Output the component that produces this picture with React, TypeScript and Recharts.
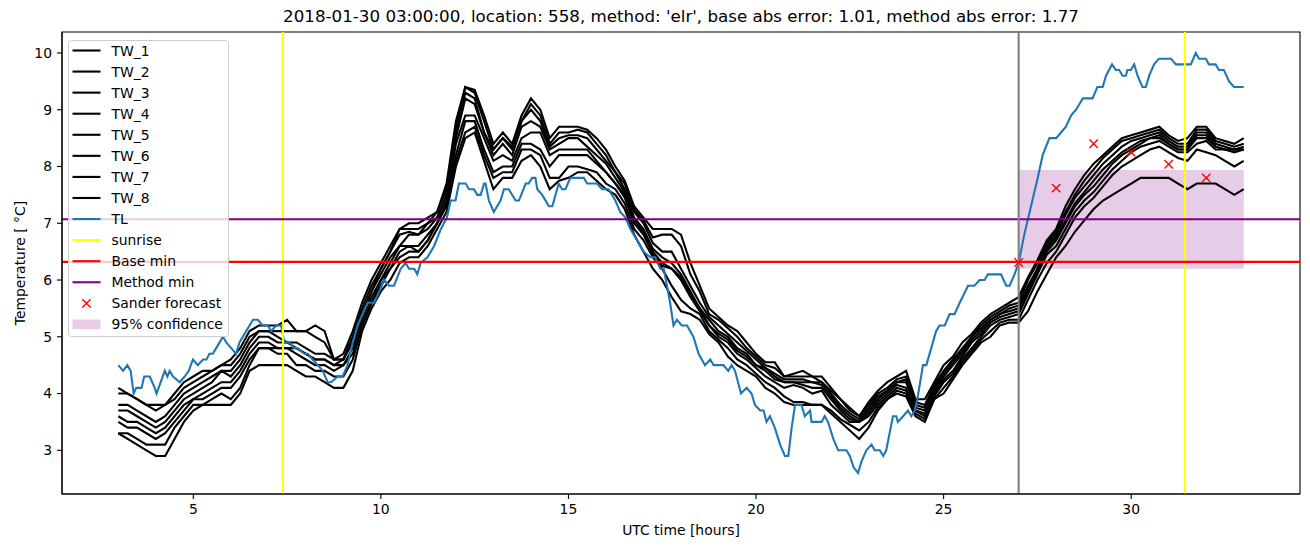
import {
  ComposedChart,
  Line,
  Scatter,
  XAxis,
  YAxis,
  ReferenceLine,
  ReferenceArea,
  Legend,
} from "recharts";

// TL: read at its turning points (UTC hours, degC)
const TL_HOURS = [
  3.0, 3.13, 3.24, 3.33, 3.41, 3.48, 3.62, 3.69, 3.84, 3.97,
  4.02, 4.24, 4.31, 4.37, 4.46, 4.64, 4.77, 4.88, 4.99, 5.12,
  5.26, 5.35, 5.43, 5.52, 5.61, 5.79, 5.88, 6.01, 6.14, 6.23,
  6.41, 6.5, 6.59, 6.72, 6.85, 6.99, 7.07, 7.21, 7.34, 7.43,
  7.56, 7.69, 7.78, 7.96, 8.05, 8.18, 8.32, 8.45, 8.58, 8.67,
  8.85, 8.98, 9.11, 9.25, 9.38, 9.51, 9.65, 9.82, 9.96, 10.09,
  10.22, 10.35, 10.53, 10.66, 10.75, 10.89, 10.97, 11.06, 11.24, 11.42,
  11.6, 11.76, 11.86, 11.99, 12.08, 12.26, 12.35, 12.48, 12.57, 12.66,
  12.75, 12.79, 12.88, 13.01, 13.19, 13.28, 13.41, 13.59, 13.68, 13.86,
  13.94, 14.03, 14.12, 14.17, 14.3, 14.48, 14.57, 14.74, 14.83, 14.92,
  15.05, 15.41, 15.5, 15.76, 15.9, 16.07, 16.25, 16.38, 16.52, 16.65,
  16.83, 17.0, 17.18, 17.31, 17.45, 17.54, 17.71, 17.8, 17.89, 18.02,
  18.16, 18.33, 18.47, 18.64, 18.78, 18.87, 19.13, 19.26, 19.35, 19.44,
  19.6, 19.75, 19.88, 19.97, 20.11, 20.2, 20.28, 20.37, 20.5, 20.64,
  20.77, 20.86, 20.95, 21.04, 21.21, 21.3, 21.44, 21.48, 21.75, 21.83,
  21.92, 22.06, 22.19, 22.41, 22.5, 22.6, 22.72, 22.81, 22.94, 23.08,
  23.16, 23.3, 23.39, 23.47, 23.65, 23.74, 23.78, 23.92, 24.05, 24.14,
  24.23, 24.3, 24.45, 24.54, 24.67, 24.8, 24.89, 25.03, 25.16, 25.29,
  25.43, 25.65, 25.82, 25.96, 26.09, 26.18, 26.53, 26.67, 26.76, 26.89,
  27.0, 27.15, 27.33, 27.51, 27.64, 27.82, 28.0, 28.13, 28.26, 28.4,
  28.53, 28.71, 28.97, 29.1, 29.24, 29.33, 29.49, 29.59, 29.68, 29.77,
  29.86, 29.9, 29.99, 30.08, 30.17, 30.3, 30.39, 30.48, 30.61, 30.74,
  31.06, 31.19, 31.59, 31.72, 31.81, 31.99, 32.07, 32.25, 32.34, 32.47,
  32.61, 32.74, 33.0,
];

const TL_VALUES = [
  4.5, 4.4, 4.5, 4.4, 4.0, 4.1, 4.1, 4.3, 4.3, 4.1,
  4.0, 4.4, 4.3, 4.4, 4.3, 4.2, 4.3, 4.4, 4.6, 4.5,
  4.6, 4.6, 4.7, 4.7, 4.8, 5.0, 4.9, 4.8, 4.7, 4.9,
  5.1, 5.2, 5.3, 5.3, 5.2, 5.2, 5.1, 5.2, 5.2, 4.9,
  4.9, 4.8, 4.8, 4.7, 4.7, 4.6, 4.5, 4.4, 4.2, 4.2,
  4.3, 4.3, 4.5, 4.9, 5.2, 5.4, 5.6, 5.6, 5.8, 6.0,
  5.9, 5.9, 6.2, 6.3, 6.2, 6.2, 6.1, 6.3, 6.4, 6.6,
  6.9, 7.1, 7.4, 7.4, 7.7, 7.7, 7.6, 7.6, 7.5, 7.5,
  7.7, 7.7, 7.4, 7.2, 7.4, 7.6, 7.6, 7.4, 7.4, 7.7,
  7.7, 7.8, 7.8, 7.6, 7.5, 7.3, 7.3, 7.7, 7.6, 7.6,
  7.8, 7.8, 7.7, 7.7, 7.6, 7.6, 7.4, 7.2, 7.1, 6.9,
  6.7, 6.5, 6.4, 6.4, 6.2, 6.2, 5.6, 5.2, 5.3, 5.2,
  5.2, 5.0, 4.7, 4.5, 4.6, 4.5, 4.5, 4.4, 4.5, 4.4,
  4.0, 4.1, 4.0, 3.8, 3.7, 3.7, 3.5, 3.6, 3.4, 3.1,
  2.9, 2.9, 3.4, 3.8, 3.8, 3.6, 3.7, 3.5, 3.5, 3.6,
  3.5, 3.2, 3.0, 3.0, 2.9, 2.7, 2.6, 2.8, 3.0, 3.1,
  3.0, 3.0, 2.9, 3.0, 3.6, 3.6, 3.5, 3.6, 3.7, 3.6,
  3.7, 3.9, 4.5, 4.5, 4.8, 5.1, 5.2, 5.2, 5.4, 5.4,
  5.6, 5.9, 5.9, 6.0, 6.0, 6.1, 6.1, 5.9, 5.9, 6.1,
  6.3, 6.8, 7.3, 7.8, 8.2, 8.5, 8.5, 8.6, 8.7, 8.9,
  9.0, 9.2, 9.2, 9.4, 9.4, 9.6, 9.8, 9.7, 9.7, 9.6,
  9.6, 9.7, 9.7, 9.8, 9.6, 9.4, 9.4, 9.6, 9.8, 9.9,
  9.9, 9.8, 9.8, 10.0, 9.9, 9.9, 9.8, 9.8, 9.7, 9.7,
  9.5, 9.4, 9.4,
];

// TW_1..TW_8: every 15 minutes from 03:00 to 33:00
const TW_START = 3;
const TW_STEP = 0.25;

const TW_1 = [
  4.1, 4.0, 3.9, 3.8, 3.8, 3.8, 4.0, 4.2, 4.3, 4.4,
  4.4, 4.5, 4.6, 4.8, 5.1, 5.2, 5.2, 5.2, 5.3, 5.1,
  5.1, 5.2, 5.1, 4.6, 4.7, 5.1, 5.6, 6.0, 6.3, 6.6,
  6.9, 7.0, 7.0, 7.1, 7.2, 7.7, 8.8, 9.4, 9.35, 8.9,
  8.4, 8.6, 8.4, 8.9, 9.2, 9.0, 8.5, 8.7, 8.7, 8.7,
  8.65, 8.5, 8.3, 8.0, 7.75, 7.3, 7.1, 6.9, 6.9, 6.9,
  6.8, 6.3, 5.9, 5.5, 5.35, 5.2, 5.1, 4.9, 4.7, 4.55,
  4.55, 4.3, 4.35, 4.4, 4.3, 4.3, 4.1, 3.9, 3.75, 3.6,
  3.85, 4.05, 4.2, 4.3, 4.4, 3.9, 3.9, 4.2, 4.5, 4.65,
  4.9, 5.05, 5.25, 5.4, 5.5, 5.6, 5.7, 6.05, 6.35, 6.7,
  6.9, 7.3, 7.6, 7.85, 8.05, 8.2, 8.35, 8.5, 8.55, 8.6,
  8.65, 8.7, 8.55, 8.45, 8.5, 8.7, 8.7, 8.5, 8.45, 8.4,
  8.5,
];

const TW_2 = [
  4.0, 4.0, 3.9, 3.8, 3.7, 3.8, 3.9, 4.1, 4.2, 4.3,
  4.4, 4.5, 4.5, 4.7, 5.0, 5.1, 5.1, 5.1, 5.1, 5.1,
  5.1, 5.0, 4.9, 4.6, 4.6, 5.0, 5.5, 5.9, 6.2, 6.5,
  6.9, 6.9, 6.9, 7.0, 7.2, 7.6, 8.7, 9.4, 9.3, 8.8,
  8.3, 8.5, 8.35, 8.8, 9.1, 8.9, 8.4, 8.6, 8.6, 8.65,
  8.6, 8.4, 8.2, 7.9, 7.7, 7.25, 7.05, 6.75, 6.8, 6.8,
  6.6, 6.1, 5.8, 5.4, 5.3, 5.15, 5.0, 4.8, 4.65, 4.5,
  4.45, 4.3, 4.3, 4.3, 4.3, 4.2, 4.05, 3.9, 3.7, 3.6,
  3.8, 4.0, 4.1, 4.25, 4.3, 3.85, 3.8, 4.15, 4.4, 4.6,
  4.8, 5.0, 5.2, 5.35, 5.45, 5.55, 5.6, 6.0, 6.3, 6.65,
  6.85, 7.2, 7.5, 7.75, 7.95, 8.15, 8.3, 8.45, 8.5, 8.55,
  8.6, 8.65, 8.5, 8.4, 8.4, 8.65, 8.65, 8.45, 8.4, 8.35,
  8.4,
];

const TW_3 = [
  3.8, 3.8, 3.7, 3.6, 3.5, 3.6, 3.8, 4.0, 4.1, 4.2,
  4.3, 4.4, 4.4, 4.6, 4.9, 5.1, 5.1, 5.0, 4.9, 4.9,
  4.8, 4.7, 4.7, 4.6, 4.6, 5.0, 5.4, 5.8, 6.2, 6.5,
  6.8, 6.85, 6.8, 7.0, 7.1, 7.5, 8.6, 9.3, 9.2, 8.6,
  8.3, 8.5, 8.3, 8.8, 9.0, 8.8, 8.35, 8.5, 8.55, 8.55,
  8.5, 8.3, 8.1, 7.9, 7.6, 7.2, 7.0, 6.65, 6.5, 6.5,
  6.2, 5.9, 5.6, 5.35, 5.2, 5.05, 4.9, 4.75, 4.6, 4.45,
  4.35, 4.25, 4.25, 4.25, 4.2, 4.2, 4.0, 3.8, 3.65, 3.55,
  3.75, 3.95, 4.05, 4.2, 4.25, 3.8, 3.75, 4.1, 4.35, 4.55,
  4.75, 5.0, 5.15, 5.3, 5.4, 5.5, 5.55, 5.9, 6.2, 6.6,
  6.8, 7.15, 7.45, 7.65, 7.85, 8.05, 8.2, 8.35, 8.45, 8.5,
  8.55, 8.6, 8.45, 8.35, 8.35, 8.6, 8.6, 8.4, 8.35, 8.3,
  8.35,
];

const TW_4 = [
  3.7, 3.7, 3.6, 3.5, 3.4, 3.5, 3.7, 3.9, 4.0, 4.1,
  4.2, 4.4, 4.3, 4.5, 4.8, 5.0, 5.0, 4.9, 4.9, 4.8,
  4.7, 4.6, 4.6, 4.5, 4.6, 4.9, 5.4, 5.8, 6.1, 6.4,
  6.6, 6.8, 6.8, 6.9, 7.1, 7.5, 8.5, 9.2, 9.1, 8.6,
  8.2, 8.4, 8.2, 8.7, 8.8, 8.7, 8.3, 8.4, 8.5, 8.5,
  8.35, 8.2, 8.05, 7.8, 7.55, 7.1, 6.9, 6.55, 6.4, 6.3,
  6.1, 5.8, 5.5, 5.3, 5.1, 5.0, 4.8, 4.7, 4.5, 4.45,
  4.3, 4.2, 4.2, 4.2, 4.2, 4.15, 3.95, 3.75, 3.6, 3.5,
  3.7, 3.9, 4.05, 4.2, 4.2, 3.75, 3.7, 4.05, 4.3, 4.5,
  4.7, 4.95, 5.1, 5.3, 5.4, 5.45, 5.5, 5.85, 6.2, 6.55,
  6.75, 7.05, 7.35, 7.55, 7.75, 7.95, 8.1, 8.25, 8.35, 8.45,
  8.5, 8.55, 8.4, 8.3, 8.3, 8.55, 8.55, 8.35, 8.3, 8.3,
  8.3,
];

const TW_5 = [
  3.6, 3.5, 3.5, 3.4, 3.3, 3.4, 3.6, 3.8, 3.9, 4.0,
  4.1, 4.2, 4.2, 4.4, 4.7, 4.9, 4.9, 4.8, 4.8, 4.8,
  4.7, 4.6, 4.6, 4.5, 4.5, 4.8, 5.3, 5.7, 6.0, 6.3,
  6.6, 6.6, 6.6, 6.8, 7.0, 7.4, 8.4, 8.9, 8.9, 8.5,
  8.1, 8.2, 8.1, 8.5, 8.6, 8.6, 8.2, 8.3, 8.3, 8.3,
  8.3, 8.1, 7.9, 7.7, 7.5, 7.05, 6.85, 6.5, 6.3, 6.2,
  6.05, 5.75, 5.5, 5.2, 5.05, 4.95, 4.75, 4.65, 4.5, 4.4,
  4.25, 4.2, 4.2, 4.15, 4.1, 4.1, 3.9, 3.7, 3.55, 3.5,
  3.65, 3.85, 4.0, 4.15, 4.1, 3.7, 3.65, 4.0, 4.25, 4.4,
  4.65, 4.9, 5.05, 5.25, 5.35, 5.4, 5.45, 5.8, 6.15, 6.5,
  6.7, 7.0, 7.3, 7.5, 7.65, 7.85, 8.05, 8.2, 8.3, 8.4,
  8.5, 8.5, 8.4, 8.3, 8.3, 8.5, 8.5, 8.35, 8.3, 8.3,
  8.3,
];

const TW_6 = [
  3.5, 3.4, 3.4, 3.3, 3.2, 3.3, 3.5, 3.7, 3.9, 3.9,
  4.0, 4.1, 4.1, 4.3, 4.6, 4.8, 4.8, 4.8, 4.8, 4.7,
  4.6, 4.5, 4.5, 4.4, 4.5, 4.7, 5.2, 5.6, 6.0, 6.2,
  6.5, 6.6, 6.5, 6.7, 7.0, 7.35, 8.2, 8.8, 8.8, 8.3,
  7.9, 8.0, 8.0, 8.4, 8.4, 8.3, 8.0, 8.2, 8.2, 8.2,
  8.2, 8.05, 7.9, 7.7, 7.45, 7.0, 6.8, 6.45, 6.25, 6.2,
  6.0, 5.7, 5.45, 5.2, 5.0, 4.9, 4.7, 4.6, 4.45, 4.3,
  4.2, 4.1, 4.15, 4.1, 4.0, 4.05, 3.8, 3.65, 3.5, 3.5,
  3.6, 3.8, 3.95, 4.1, 4.05, 3.7, 3.6, 3.95, 4.2, 4.35,
  4.6, 4.8, 5.0, 5.2, 5.3, 5.35, 5.4, 5.75, 6.1, 6.45,
  6.6, 6.9, 7.2, 7.4, 7.55, 7.75, 7.95, 8.1, 8.25, 8.35,
  8.4, 8.45, 8.35, 8.25, 8.25, 8.4, 8.45, 8.3, 8.3, 8.25,
  8.3,
];

const TW_7 = [
  3.3, 3.3, 3.2, 3.1, 3.1, 3.1, 3.4, 3.6, 3.8, 3.8,
  3.9, 4.0, 3.9, 4.1, 4.5, 4.8, 4.8, 4.7, 4.7, 4.5,
  4.5, 4.4, 4.4, 4.3, 4.3, 4.6, 5.2, 5.6, 5.9, 6.2,
  6.4, 6.5, 6.5, 6.7, 7.0, 7.3, 8.1, 8.6, 8.7, 8.2,
  7.8, 7.9, 7.9, 8.3, 8.3, 8.2, 7.8, 7.8, 8.0, 8.0,
  7.95, 7.9, 7.7, 7.6, 7.35, 6.9, 6.7, 6.4, 6.2, 5.9,
  5.65, 5.5, 5.4, 5.1, 4.95, 4.8, 4.6, 4.5, 4.35, 4.2,
  4.1, 3.95, 3.85, 3.85, 3.8, 3.8, 3.7, 3.55, 3.45, 3.35,
  3.5, 3.75, 3.9, 4.05, 4.0, 3.65, 3.55, 3.9, 4.1, 4.3,
  4.55, 4.75, 4.95, 5.1, 5.25, 5.3, 5.3, 5.65, 6.0, 6.3,
  6.5, 6.8, 7.1, 7.3, 7.45, 7.65, 7.85, 8.0, 8.1, 8.2,
  8.3, 8.35, 8.25, 8.15, 8.1, 8.3, 8.25, 8.2, 8.1, 8.0,
  8.1,
];

const TW_8 = [
  3.3, 3.2, 3.1, 3.0, 2.9, 2.9, 3.2, 3.5, 3.7, 3.8,
  3.8, 3.8, 3.8, 4.0, 4.4, 4.5, 4.5, 4.5, 4.5, 4.4,
  4.3, 4.3, 4.2, 4.1, 4.1, 4.4, 5.1, 5.5, 5.8, 6.0,
  6.3, 6.4, 6.4, 6.6, 6.9, 7.2, 8.0, 8.5, 8.6, 8.1,
  7.6, 7.8, 7.8, 8.1, 8.2, 8.0, 7.6, 7.75, 7.8, 7.9,
  7.9, 7.75, 7.6, 7.5, 7.25, 6.8, 6.5, 6.2, 6.0, 5.7,
  5.45, 5.4, 5.3, 5.05, 4.9, 4.65, 4.5, 4.4, 4.3, 4.1,
  4.0, 3.85, 3.8, 3.8, 3.8, 3.8, 3.65, 3.5, 3.35, 3.2,
  3.4, 3.7, 3.9, 4.0, 3.95, 3.6, 3.5, 3.9, 4.0, 4.25,
  4.5, 4.7, 4.9, 5.0, 5.2, 5.25, 5.25, 5.45, 5.8, 6.1,
  6.4, 6.6, 6.85, 7.05, 7.25, 7.4, 7.5, 7.6, 7.7, 7.8,
  7.8, 7.8, 7.8, 7.7, 7.6, 7.7, 7.7, 7.7, 7.6, 7.5,
  7.6,
];

const TW_SERIES = [TW_1, TW_2, TW_3, TW_4, TW_5, TW_6, TW_7, TW_8];
const TW_NAMES = ["TW_1", "TW_2", "TW_3", "TW_4", "TW_5", "TW_6", "TW_7", "TW_8"];

const SANDER_HOURS = [27, 28, 29, 30, 31, 32];
const SANDER_VALUES = [6.31, 7.62, 8.4, 8.25, 8.04, 7.8];

const SUNRISE_HOURS = [7.39, 31.43];
const FORECAST_START = 27;
const BASE_MIN = 6.32;
const METHOD_MIN = 7.07;
const CONF_RANGE = [27, 33];
const CONF_LOW = 6.2;
const CONF_HIGH = 7.94;

const X_TICKS = [5, 10, 15, 20, 25, 30];
const Y_TICKS = [3, 4, 5, 6, 7, 8, 9, 10];

const TITLE =
  "2018-01-30 03:00:00, location: 558, method: 'elr', base abs error: 1.01, method abs error: 1.77";

const FONT = "DejaVu Sans";
const BLUE = "#1f77b4";

const twRows = TW_1.map((_, i) => {
  const row: Record<string, number> = { h: TW_START + i * TW_STEP };
  TW_SERIES.forEach((s, k) => {
    row[`tw${k + 1}`] = s[i];
  });
  return row;
});

const tlRows = TL_HOURS.map((h, i) => ({ h, tl: TL_VALUES[i] }));
const sander = SANDER_HOURS.map((h, i) => ({ h, v: SANDER_VALUES[i] }));

function XMark({ cx, cy, size = 4.2 }: { cx?: number; cy?: number; size?: number }) {
  if (cx == null || cy == null) return null;
  return (
    <path
      d={`M${cx - size},${cy - size}L${cx + size},${cy + size}M${cx - size},${cy + size}L${cx + size},${cy - size}`}
      stroke="#ff0000"
      strokeWidth={1.4}
      fill="none"
    />
  );
}

type LegendItem = { label: string; kind: "line" | "x" | "rect"; color: string };

const LEGEND_ITEMS: LegendItem[] = [
  ...TW_NAMES.map((n) => ({ label: n, kind: "line" as const, color: "#000000" })),
  { label: "TL", kind: "line", color: BLUE },
  { label: "sunrise", kind: "line", color: "#ffff00" },
  { label: "Base min", kind: "line", color: "#ff0000" },
  { label: "Method min", kind: "line", color: "#800080" },
  { label: "Sander forecast", kind: "x", color: "#ff0000" },
  { label: "95% confidence", kind: "rect", color: "#800080" },
];

function LegendBox() {
  const rowH = 21.07;
  return (
    <svg width={162} height={298} style={{ display: "block" }}>
      <rect
        x={0.5}
        y={0.5}
        width={160}
        height={296}
        rx={3}
        fill="#ffffff"
        fillOpacity={0.8}
        stroke="#cccccc"
        strokeWidth={1}
      />
      {LEGEND_ITEMS.map((it, i) => {
        const y = 10.5 + i * rowH;
        return (
          <g key={it.label}>
            {it.kind === "line" && (
              <line x1={4.5} x2={32.5} y1={y} y2={y} stroke={it.color} strokeWidth={2.1} />
            )}
            {it.kind === "x" && <XMark cx={18.5} cy={y} />}
            {it.kind === "rect" && (
              <rect x={4.5} y={y - 4.9} width={28} height={9.7} fill={it.color} fillOpacity={0.2} />
            )}
            <text
              x={43.5}
              y={y}
              dominantBaseline="central"
              fontFamily={FONT}
              fontSize={13.9}
              fill="#000"
            >
              {it.label}
            </text>
          </g>
        );
      })}
    </svg>
  );
}

export default function App() {
  const tickStyle = { fontSize: 13.9, fill: "#000", fontFamily: FONT };
  return (
    <div style={{ position: "absolute", left: 0, top: 0, width: 1310, height: 547, background: "#fff" }}>
      <svg
        width={1310}
        height={30}
        style={{ position: "absolute", left: 0, top: 0, pointerEvents: "none" }}
      >
        <text x={681} y={22} textAnchor="middle" fontFamily={FONT} fontSize={16.7} fill="#000">
          {TITLE}
        </text>
      </svg>
      <ComposedChart
        width={1310}
        height={547}
        data={twRows}
        margin={{ top: 32, right: 10, bottom: 0, left: 0 }}
      >
        <XAxis
          dataKey="h"
          type="number"
          domain={[1.5, 34.5]}
          ticks={X_TICKS}
          allowDataOverflow
          height={53}
          tick={tickStyle}
          tickSize={5}
          tickMargin={5}
          stroke="#000"
          tickLine={{ stroke: "#000", strokeWidth: 1.1 }}
          axisLine={{ stroke: "#000", strokeWidth: 1.1 }}
          label={{
            content: () => (
              <text x={681} y={535} textAnchor="middle" fontFamily={FONT} fontSize={13.9} fill="#000">
                UTC time [hours]
              </text>
            ),
          }}
        />
        <YAxis
          type="number"
          domain={[2.23, 10.37]}
          ticks={Y_TICKS}
          allowDataOverflow
          width={62}
          tick={tickStyle}
          tickSize={5}
          tickMargin={5}
          stroke="#000"
          tickLine={{ stroke: "#000", strokeWidth: 1.1 }}
          axisLine={{ stroke: "#000", strokeWidth: 1.1 }}
          label={{
            content: () => (
              <text
                x={25}
                y={263}
                transform="rotate(-90, 25, 263)"
                textAnchor="middle"
                fontFamily={FONT}
                fontSize={13.9}
                fill="#000"
              >
                Temperature [ °C]
              </text>
            ),
          }}
        />
        <ReferenceArea
          x1={CONF_RANGE[0]}
          x2={CONF_RANGE[1]}
          y1={CONF_LOW}
          y2={CONF_HIGH}
          fill="#800080"
          fillOpacity={0.2}
          stroke="none"
        />
        {TW_NAMES.map((n, k) => (
          <Line
            key={n}
            name={n}
            dataKey={`tw${k + 1}`}
            type="linear"
            stroke="#000000"
            strokeWidth={2.1}
            dot={false}
            isAnimationActive={false}
          />
        ))}
        <Line
          name="TL"
          data={tlRows}
          dataKey="tl"
          type="linear"
          stroke={BLUE}
          strokeWidth={2.1}
          dot={false}
          isAnimationActive={false}
        />
        {SUNRISE_HOURS.map((h) => (
          <ReferenceLine key={h} x={h} stroke="#ffff00" strokeWidth={2.1} />
        ))}
        <ReferenceLine y={BASE_MIN} stroke="#ff0000" strokeWidth={2.1} />
        <ReferenceLine y={METHOD_MIN} stroke="#800080" strokeWidth={2.1} />
        <ReferenceLine x={FORECAST_START} stroke="#808080" strokeWidth={2.1} />
        <Scatter
          name="Sander forecast"
          data={sander}
          dataKey="v"
          shape={(p: any) => <XMark cx={p.cx} cy={p.cy} />}
          isAnimationActive={false}
        />
        <ReferenceArea
          x1={1.5}
          x2={34.5}
          y1={2.23}
          y2={10.37}
          fill="none"
          stroke="#000"
          strokeWidth={1.1}
          ifOverflow="visible"
        />
        <Legend
          layout="vertical"
          align="center"
          verticalAlign="middle"
          wrapperStyle={{ left: 68, top: 40, width: 162, height: 298 }}
          content={() => <LegendBox />}
        />
      </ComposedChart>
    </div>
  );
}
